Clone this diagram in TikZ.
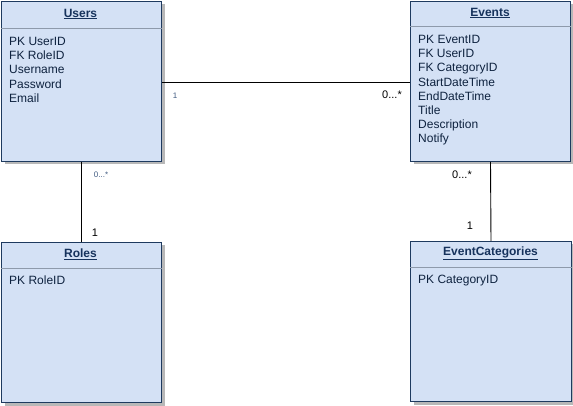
\documentclass[tikz,border=0pt]{standalone}
\usepackage{fontspec}
\setmainfont{Liberation Sans}
\definecolor{boxfill}{HTML}{D4E1F5}
\definecolor{boxline}{HTML}{1E3A5F}
\definecolor{navytext}{HTML}{16325C}
\definecolor{fieldtext}{HTML}{0E223F}
\definecolor{divgray}{HTML}{8E9AAB}
\definecolor{smalllbl}{HTML}{3F5A80}
\tikzset{
  entity/.style={draw=boxline, fill=boxfill, line width=1pt, rectangle, anchor=north west, inner sep=0pt,
    minimum width=160pt, minimum height=160pt,
    drop shadow={shadow xshift=3pt, shadow yshift=-3pt, fill=black!28, opacity=1}},
  etitle/.style={font=\fontsize{12}{13}\selectfont\bfseries, text=navytext, inner sep=0pt},
  fields/.style={font=\fontsize{12}{14.2}\selectfont, text=fieldtext, align=left, anchor=north west, inner sep=0pt},
  divider/.style={draw=divgray, line width=0.8pt},
  conn/.style={draw=black, line width=0.9pt},
  bigl/.style={font=\fontsize{11}{12}\selectfont, text=black, inner sep=0pt},
  smalll/.style={font=\fontsize{8}{9}\selectfont, text=smalllbl, inner sep=0pt}
}
\usetikzlibrary{shadows}
\begin{document}
\begin{tikzpicture}[x=1pt,y=-1pt]
\useasboundingbox (0,0) rectangle (573,406);
% entities
\node[entity] (users) at (1,1) {};
\node[entity] (events) at (410,1) {};
\node[entity] (roles) at (1,242) {};
\node[entity, minimum width=161pt] (cats) at (410,241) {};
% titles
\node[etitle] (usersT) at (80.5,14) {\underline{Users}};
\node[etitle] (eventsT) at (490,13) {\underline{Events}};
\node[etitle] (rolesT) at (80.5,254) {\underline{Roles}};
\node[etitle] (catsT) at (490.5,253) {\underline{EventCategories}};
% dividers
\draw[divider] ([yshift=-27pt]users.north west) -- ([yshift=-27pt]users.north east);
\draw[divider] ([yshift=-25pt]events.north west) -- ([yshift=-25pt]events.north east);
\draw[divider] ([yshift=-26pt]roles.north west) -- ([yshift=-26pt]roles.north east);
\draw[divider] ([yshift=-26pt]cats.north west) -- ([yshift=-26pt]cats.north east);
% fields
\node[fields] (usersF) at (9,37) {PK UserID\\FK RoleID\\Username\\Password\\Email};
\node[fields] (eventsF) at (418,35) {PK EventID\\FK UserID\\FK CategoryID\\StartDateTime\\EndDateTime\\Title\\Description\\Notify};
\node[fields] (rolesF) at (9,276) {PK RoleID};
\node[fields] (catsF) at (418,275) {PK CategoryID};
% connectors
\draw[conn] (users.east |- 0,82) -- (events.west |- 0,82);
\draw[conn] (users.south) -- (roles.north);
\draw[conn] (events.south) -- (cats.north);
% multiplicities
\node[smalll] (m1) at (175,96) {1};
\node[bigl] (m2) at (392,95) {0...*};
\node[smalll] (m3) at (101,175) {0...*};
\node[bigl] (m4) at (95,233) {1};
\node[bigl] (m5) at (462,175) {0...*};
\node[bigl] (m6) at (470,226) {1};
\end{tikzpicture}
\end{document}
